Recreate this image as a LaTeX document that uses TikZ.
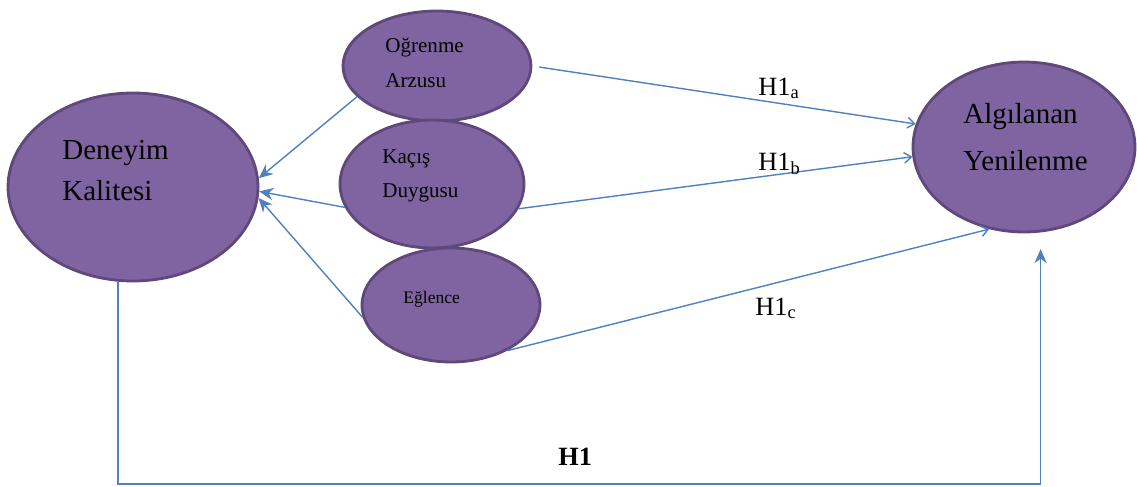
\documentclass[tikz,border=0pt]{standalone}
\usepackage{fontspec}
\setmainfont{Liberation Serif}
\usetikzlibrary{shapes.geometric}
\usetikzlibrary{arrows.meta}
\usetikzlibrary{positioning}

\definecolor{ovalfill}{RGB}{128,100,162}
\definecolor{ovaldraw}{RGB}{94,73,122}
\definecolor{linkblue}{RGB}{79,129,189}

\begin{document}
\begin{tikzpicture}[
    x=0.02cm, y=-0.02cm,
    oval/.style={ellipse,draw=ovaldraw,fill=ovalfill,line width=1.6pt,inner sep=0pt},
    ovaltxt/.style={anchor=base west,align=left,inner sep=0pt,text=black},
    inlink/.style={draw=linkblue,line width=0.8pt,-{Stealth[length=8pt,width=7pt]}},
    outlink/.style={draw=linkblue,line width=0.8pt,-{Straight Barb[length=4pt,width=6pt]}},
    hyp/.style={anchor=base west,inner sep=0pt,font=\fontsize{15}{18}\selectfont}
    ]
    \useasboundingbox (0,0) rectangle (1137,487);
    % constructs
    \node[oval,minimum width=5cm,minimum height=3.76cm] (dk) at (133,187) {};
    \node[oval,minimum width=4.44cm,minimum height=3.4cm] (ay) at (1024,147) {};
    \node[oval,minimum width=3.76cm,minimum height=2.2cm] (og) at (437,66) {};
    \node[oval,minimum width=3.68cm,minimum height=2.56cm] (kd) at (432,184) {};
    \node[oval,minimum width=3.56cm,minimum height=2.28cm] (eg) at (451,305) {};
    % texts in the ovals (anchored at the last line)
    \node[ovaltxt,font=\fontsize{16.5}{22.8}\selectfont] (dktxt) at (62,200) {Deneyim\\Kalitesi};
    \node[ovaltxt,font=\fontsize{16.5}{26.7}\selectfont] (aytxt) at (963,170) {Algılanan\\Yenilenme};
    \node[ovaltxt,font=\fontsize{12}{19.9}\selectfont] (ogtxt) at (385,87) {Oğrenme\\Arzusu};
    \node[ovaltxt,font=\fontsize{12}{19.3}\selectfont] (kdtxt) at (382,197) {Kaçış\\Duygusu};
    \node[ovaltxt,font=\fontsize{10}{12}\selectfont] (egtxt) at (403,303) {Eğlence};
    % links to Deneyim Kalitesi
    \draw[inlink] (og.201) -- (dk.4);
    \draw[inlink] (kd.195) -- (dk.-2);
    \draw[inlink] (eg.188) -- (dk.-5);
    % links to Algılanan Yenilenme
    \draw[outlink,shorten <=4pt] (og.east) -- (ay.168);
    \draw[outlink] (kd.-16) -- (ay.185);
    \draw[outlink] (eg.-39) -- (ay.247);
    % H1
    \coordinate (hbase) at (0,484);
    \draw[inlink,shorten >=9.5pt] (dk.261) -- (dk.261 |- hbase) -| (ay.281);
    % labels
    \node[hyp] (h1a) at (758,95) {H1\textsubscript{a}};
    \node[hyp] (h1b) at (758,170) {H1\textsubscript{b}};
    \node[hyp] (h1c) at (755,315) {H1\textsubscript{c}};
    \node[hyp,font=\fontsize{15}{18}\bfseries] (h1) at (558,465) {H1};
\end{tikzpicture}
\end{document}
